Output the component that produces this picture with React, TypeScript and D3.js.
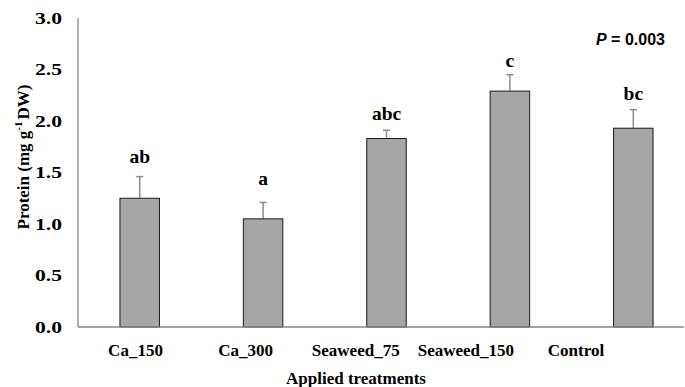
import { useEffect, useRef } from 'react';
import * as d3 from 'd3';

const treatments = ['Ca_150', 'Ca_300', 'Seaweed_75', 'Seaweed_150', 'Control'];
const protein = [1.25, 1.05, 1.83, 2.29, 1.93];
const errors = [0.21, 0.16, 0.08, 0.16, 0.18];
const letters = ['ab', 'a', 'abc', 'c', 'bc'];
// height (in protein units) at which each significance letter sits
const letterAt = [1.59, 1.38, 2.01, 2.52, 2.2];
const yTicks = [0, 0.5, 1.0, 1.5, 2.0, 2.5, 3.0];

const W = 685;
const H = 387;
const SERIF = '"Liberation Serif", "Times New Roman", serif';
const SANS = '"Liberation Sans", Arial, sans-serif';

export default function App() {
  const svgRef = useRef<SVGSVGElement | null>(null);

  useEffect(() => {
    if (!svgRef.current) return;
    const svg = d3.select(svgRef.current);
    svg.selectAll('*').remove();

    const x = d3.scaleBand<string>().domain(treatments).range([78, 695]).paddingInner(0.68).paddingOuter(0.34);
    // category labels sit on their own (tighter) spacing in the original
    const xl = d3.scalePoint<string>().domain(treatments).range([135.5, 576]);
    const y = d3.scaleLinear().domain([0, 3]).range([327, 18]);
    const bw = x.bandwidth();

    svg.append('line').attr('x1', 78).attr('x2', 78).attr('y1', y(3)).attr('y2', y(0))
      .attr('stroke', '#868686').attr('stroke-width', 1.3);

    svg.append('g').selectAll('text').data(yTicks).join('text')
      .attr('transform', d => `translate(62,${y(d)}) scale(1.35,1)`)
      .attr('dy', '0.35em')
      .attr('text-anchor', 'end')
      .style('font-family', SERIF).style('font-weight', 'bold').style('font-size', '16px')
      .text(d => d.toFixed(1));

    const g = svg.append('g');
    treatments.forEach((t, i) => {
      const cx = (x(t) ?? 0) + bw / 2;
      const top = y(protein[i]);
      const et = y(protein[i] + errors[i]);
      g.append('line').attr('x1', cx).attr('x2', cx).attr('y1', top).attr('y2', et)
        .attr('stroke', '#8c8c8c').attr('stroke-width', 1.5);
      g.append('line').attr('x1', cx - 3.5).attr('x2', cx + 3.5).attr('y1', et).attr('y2', et)
        .attr('stroke', '#8c8c8c').attr('stroke-width', 1.5);
      g.append('rect').attr('x', x(t) ?? 0).attr('y', top)
        .attr('width', bw).attr('height', y(0) - top)
        .attr('fill', '#a6a6a6').attr('stroke', '#1a1a1a').attr('stroke-width', 1);
      g.append('text').attr('x', cx).attr('y', y(letterAt[i]))
        .attr('text-anchor', 'middle')
        .style('font-family', SERIF).style('font-weight', 'bold').style('font-size', '19.5px')
        .text(letters[i]);
      g.append('text').attr('x', xl(t) ?? 0).attr('y', 356)
        .attr('text-anchor', 'middle')
        .style('font-family', SERIF).style('font-weight', 'bold').style('font-size', '17px')
        .text(t);
    });

    svg.append('line').attr('x1', 78).attr('x2', 684).attr('y1', y(0)).attr('y2', y(0))
      .attr('stroke', '#868686').attr('stroke-width', 1.3);

    svg.append('text').attr('x', 356).attr('y', 384).attr('text-anchor', 'middle')
      .style('font-family', SERIF).style('font-weight', 'bold').style('font-size', '17px')
      .text('Applied treatments');

    const yt = svg.append('text')
      .attr('transform', 'translate(29,157) rotate(-90)')
      .attr('text-anchor', 'middle')
      .style('font-family', SERIF).style('font-weight', 'bold').style('font-size', '17px');
    yt.append('tspan').text('Protein (mg g');
    yt.append('tspan').attr('dy', -7).style('font-size', '11px').text('-1');
    yt.append('tspan').attr('dy', 7).attr('dx', 2).text('DW)');

    const p = svg.append('text').attr('x', 596).attr('y', 45)
      .style('font-family', SANS).style('font-weight', 'bold').style('font-size', '16px');
    p.append('tspan').style('font-style', 'italic').text('P');
    p.append('tspan').text(' = 0.003');
  }, []);

  return (
    <svg ref={svgRef} width={W} height={H}
      style={{ position: 'absolute', left: 0, top: 0, background: '#fff' }} />
  );
}
